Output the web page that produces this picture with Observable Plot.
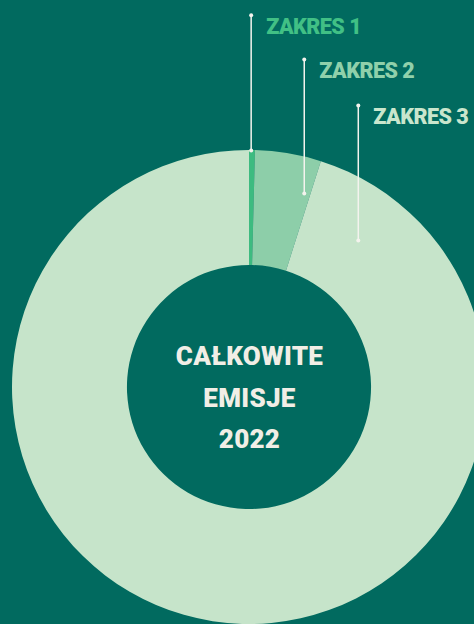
<!DOCTYPE html>
<html><head><meta charset="utf-8">
<script src="https://cdn.jsdelivr.net/npm/d3@7"></script>
<script src="https://cdn.jsdelivr.net/npm/@observablehq/plot@0.6"></script>
<style>html,body{margin:0;padding:0;background:#016a5f;overflow:hidden}</style>
</head><body><div id="chart"></div>
<script>
// ---- data ----
const categories = ["ZAKRES 1", "ZAKRES 2", "ZAKRES 3"];
const shares = [0.4, 4.5, 95.1];
const sliceColors = ["#3dbb80", "#8dcea9", "#c6e4ca"];
const labelColors = ["#41c085", "#90d0ab", "#c9e6cd"];
const centerLines = ["CAŁKOWITE", "EMISJE", "2022"];

// ---- layout (data units: donut outer radius = 1) ----
const BG = "#016a5f";
const innerRatio = 0.515;
const leaderX = [0.007, 0.231, 0.459];
const leaderTop = [1.571, 1.384, 1.19];
const leaderBottom = [1.0, 0.819, 0.62];

const sliceData = categories.map((c, i) => ({category: c, share: shares[i], color: sliceColors[i]}));
const slices = d3.pie().sort(null).value(d => d.share)(sliceData);
const leaders = categories.map((c, i) => ({category: c, x: leaderX[i], y1: leaderBottom[i], y2: leaderTop[i], color: labelColors[i]}));

function donut(index, scales) {
  const {x, y} = scales;
  const cx = x(0), cy = y(0);
  const R = x(1) - cx;
  const arc = d3.arc().innerRadius(R * innerRatio).outerRadius(R);
  const g = d3.create("svg:g").attr("transform", `translate(${cx},${cy})`);
  g.selectAll("path").data(slices).join("path").attr("d", arc).attr("fill", d => d.data.color);
  return g.node();
}

const plot = Plot.plot({
  width: 474,
  height: 624,
  margin: 0,
  style: {background: BG, overflow: "hidden"},
  x: {domain: [-1, 1], range: [12, 486], axis: null},
  y: {domain: [-1, 1], range: [624, 150], axis: null},
  color: {type: "identity"},
  marks: [
    donut,
    Plot.ruleX(leaders, {x: "x", y1: "y1", y2: "y2", stroke: "#f4f3ee", strokeWidth: 1.5}),
    Plot.dot(leaders, {x: "x", y: "y1", r: 2, fill: "#f4f3ee"}),
    Plot.dot(leaders, {x: "x", y: "y2", r: 2, fill: "#f4f3ee"}),
    Plot.text(leaders, {x: "x", y: "y2", text: "category", fill: "color", textAnchor: "start", lineAnchor: "bottom",
      dx: 15, dy: 19, fontSize: 21.5, fontWeight: 900, fontFamily: "Roboto"}),
    Plot.text([centerLines.join("\n")], {x: 0, y: 0, text: d => d, fill: "#f1eee6", textAnchor: "middle",
      lineAnchor: "middle", lineHeight: 1.6, dy: 6, fontSize: 26, fontWeight: 900, fontFamily: "Roboto"})
  ]
});
plot.querySelectorAll("text").forEach(t => {
  if (t.textContent.includes("CAŁKOWITE")) t.setAttribute("letter-spacing", "0.3");
  else if (t.textContent.includes("ZAKRES")) t.setAttribute("letter-spacing", "-0.5");
});
document.getElementById("chart").appendChild(plot);
</script>
</body></html>
